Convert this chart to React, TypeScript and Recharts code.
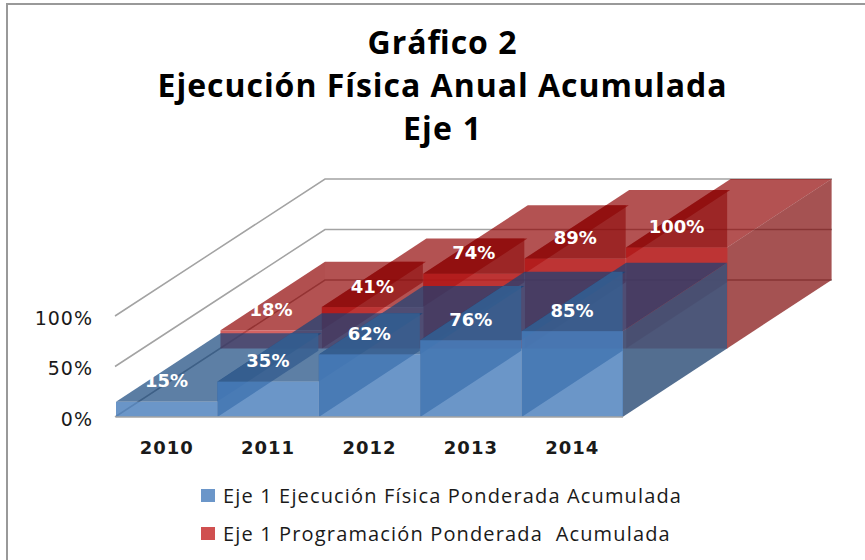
import React from 'react';
import { ComposedChart, Bar, XAxis, YAxis, CartesianGrid, LabelList, Legend } from 'recharts';

const categories = ['2010', '2011', '2012', '2013', '2014'];
const ejecucion = [15, 35, 62, 76, 85];
const programacion = [18, 41, 74, 89, 100];
const yTicks = [0, 50, 100];
const titleLines = ['Gráfico 2', 'Ejecución Física Anual Acumulada', 'Eje 1'];
const nameEjecucion = 'Eje 1 Ejecución Física Ponderada Acumulada';
const nameProgramacion = 'Eje 1 Programación Ponderada  Acumulada';

const chartData = categories.map((year, i) => ({
  year,
  ejecucion: ejecucion[i],
  programacion: programacion[i],
}));

// oblique projection of the 3D area chart: one series slot of depth
const DEPTH_X = 104.5;
const DEPTH_Y = -68.5;
const FONT = '"DejaVu Sans", sans-serif';
const TITLE_FONT = '"Open Sans", sans-serif';

const bluePaint = {
  top: 'rgba(16,66,122,0.68)',
  side: 'rgba(55,95,145,0.85)',
  front: 'rgba(70,124,186,0.8)',
  firstSide: 'rgba(53,85,124,0.04)',
  right: 'rgba(53,85,124,0.85)',
};
const redPaint = {
  top: 'rgba(143,0,0,0.68)',
  side: 'rgba(140,10,10,0.6)',
  front: 'rgba(190,25,25,0.68)',
  firstSide: 'rgba(120,20,20,0.04)',
  right: 'rgba(122,0,0,0.68)',
};

const pts = (list: number[][]) => list.map((p) => p.join(',')).join(' ');

function makeBox(slot: number, paint: typeof bluePaint, values: number[]) {
  return function Box(props: any) {
    const { x, y, width, height, index } = props;
    const fx = x + slot * DEPTH_X;
    const fy = y + slot * DEPTH_Y;
    const bottom = fy + height;
    const right = fx + width;
    const slope = DEPTH_Y / DEPTH_X;
    // height of the previous column's back edge, read through this column's own scale
    const perUnit = height / values[index];
    const prevBack = index > 0 ? bottom - values[index - 1] * perUnit + DEPTH_Y : fy + DEPTH_Y;
    const leftFace =
      index === 0
        ? [[fx, bottom], [fx, fy], [fx + DEPTH_X, fy + DEPTH_Y], [fx + DEPTH_X, bottom + DEPTH_Y]]
        : [
            [fx, bottom],
            [fx, fy],
            [fx + (prevBack - fy) / slope, prevBack],
            [right, prevBack],
            [right, bottom + slope * width],
          ];
    return (
      <g>
        <polygon
          fill={paint.top}
          points={pts([[fx, fy], [right, fy], [right + DEPTH_X, fy + DEPTH_Y], [fx + DEPTH_X, fy + DEPTH_Y]])}
        />
        <polygon fill={index === 0 ? paint.firstSide : paint.side} points={pts(leftFace)} />
        {index === categories.length - 1 && (
          <polygon
            fill={paint.right}
            points={pts([[right, bottom], [right, fy], [right + DEPTH_X, fy + DEPTH_Y], [right + DEPTH_X, bottom + DEPTH_Y]])}
          />
        )}
        <rect x={fx} y={fy} width={width + 0.4} height={height} fill={paint.front} />
      </g>
    );
  };
}

const BlueBox = makeBox(0, bluePaint, ejecucion);
const RedBox = makeBox(1, redPaint, programacion);

function makeValueLabel(slot: number) {
  return function ValueLabel(props: any) {
    const { x, y, width, value } = props;
    return (
      <text
        x={x + width / 2 + slot * DEPTH_X}
        y={y + slot * DEPTH_Y - 21}
        textAnchor="middle"
        dominantBaseline="central"
        fill="#ffffff"
        fontFamily={FONT}
        fontWeight={700}
        fontSize={18}
      >
        {value}%
      </text>
    );
  };
}

const gridLine = (props: any) => {
  const { x1, y1, key } = props;
  return (
    <polyline
      key={key}
      fill="none"
      stroke="#a3a3a3"
      strokeWidth={1.5}
      points={pts([[x1 - 1, y1], [x1 + 209, y1 - 137], [x1 + 716, y1 - 137]])}
    />
  );
};

const legendContent = (props: any) => {
  const items = props.payload || [];
  const ordered = [...items].sort((a: any, b: any) => (a.value === nameEjecucion ? -1 : b.value === nameEjecucion ? 1 : 0));
  return (
    <div>
      {ordered.map((entry: any) => (
        <div
          key={entry.value}
          style={{
            display: 'flex',
            alignItems: 'center',
            height: 38,
            fontFamily: TITLE_FONT,
            fontSize: 20,
            letterSpacing: 1.15,
            color: '#1a1a1a',
            whiteSpace: 'pre',
          }}
        >
          <span style={{ display: 'inline-block', width: 14, height: 13, background: entry.color, marginRight: 8 }} />
          {entry.value}
        </div>
      ))}
    </div>
  );
};

export default function App() {
  return (
    <div style={{ position: 'absolute', left: 0, top: 0, width: 865, height: 560, overflow: 'hidden', background: '#fff' }}>
      <div style={{ position: 'absolute', left: 6, top: 3, width: 859, height: 557, borderTop: '2px solid #999', borderLeft: '2px solid #999' }} />
      <ComposedChart
        width={865}
        height={560}
        data={chartData}
        barCategoryGap={0}
        margin={{ top: 316, right: 242, bottom: 103, left: 56 }}
        style={{ position: 'absolute', left: 0, top: 0 }}
      >
        <CartesianGrid horizontal={gridLine} vertical={false} />
        <XAxis
          dataKey="year"
          xAxisId={0}
          height={40}
          axisLine={{ stroke: '#a3a3a3', strokeWidth: 1.5 }}
          tickLine={false}
          tickMargin={18}
          tick={{ fill: '#1a1a1a', fontFamily: FONT, fontWeight: 700, fontSize: 18, letterSpacing: 1 }}
        />
        <XAxis dataKey="year" xAxisId={1} hide />
        <YAxis
          width={60}
          domain={[0, 100]}
          ticks={yTicks}
          tickFormatter={(v: number) => `${v}%`}
          axisLine={false}
          tickLine={false}
          tickMargin={17}
          tick={{ fill: '#1a1a1a', fontFamily: FONT, fontSize: 19, letterSpacing: 1, dy: 2 }}
        />
        <Bar dataKey="programacion" name={nameProgramacion} xAxisId={1} fill="#d05050" shape={RedBox} isAnimationActive={false}>
          <LabelList dataKey="programacion" content={makeValueLabel(1)} />
        </Bar>
        <Bar dataKey="ejecucion" name={nameEjecucion} xAxisId={0} fill="#6b96c9" shape={BlueBox} isAnimationActive={false}>
          <LabelList dataKey="ejecucion" content={makeValueLabel(0)} />
        </Bar>
        <Legend
          layout="vertical"
          align="center"
          verticalAlign="middle"
          content={legendContent}
          wrapperStyle={{ left: 201, top: 476, width: 600, bottom: 'auto', right: 'auto' }}
        />
        {titleLines.map((line, i) => (
          <text
            key={line}
            x={442}
            y={[54, 97, 140][i]}
            textAnchor="middle"
            fontFamily={TITLE_FONT}
            fontWeight={700}
            fontSize={32}
            fill="#000"
            textLength={[149, 569, 78][i]}
            lengthAdjust="spacing"
          >
            {line}
          </text>
        ))}
      </ComposedChart>
    </div>
  );
}
